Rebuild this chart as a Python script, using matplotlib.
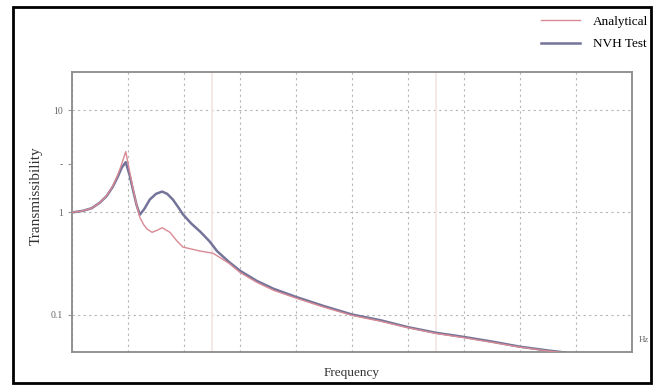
import matplotlib.pyplot as plt
from matplotlib.patches import Rectangle

plt.rcParams['font.family'] = ['Liberation Serif', 'DejaVu Serif']

# frequency (axis has 10 equal divisions, no numeric labels)
freq_test = [0, 2, 3.5, 5.0, 6.2, 7.3, 8.2, 8.9, 9.6, 10.3, 10.9, 11.5, 12.1, 12.9,
             13.9, 15.0, 16.1, 17.0, 18.0, 19.0, 19.8, 21.3, 22.9, 24.6, 25.9,
             28, 30, 33, 36, 40, 45, 50, 55, 60, 65, 70, 75, 80, 85, 88]
nvh_test = [1.0, 1.04, 1.1, 1.25, 1.45, 1.79, 2.25, 2.75, 3.1, 2.3, 1.65, 1.2, 0.95, 1.08,
            1.34, 1.52, 1.6, 1.52, 1.34, 1.12, 0.96, 0.78, 0.65, 0.52, 0.42,
            0.33, 0.27, 0.215, 0.18, 0.15, 0.122, 0.101, 0.089, 0.076, 0.067, 0.061,
            0.055, 0.049, 0.045, 0.043]

freq_ana = [0, 2, 3.5, 5.0, 6.2, 7.3, 8.2, 8.9, 9.6, 10.3, 10.9, 11.5, 12.1, 12.8,
            13.4, 14.3, 15.2, 16.1, 17.5, 18.7, 19.8, 21.3, 22.9, 25.2,
            28, 30, 33, 36, 40, 45, 50, 55, 60, 65, 70, 75, 80, 85, 88]
analytical = [1.0, 1.04, 1.1, 1.25, 1.46, 1.82, 2.35, 3.0, 3.93, 2.5, 1.7, 1.2, 0.9, 0.76,
              0.69, 0.64, 0.67, 0.71, 0.64, 0.53, 0.46, 0.44, 0.42, 0.40,
              0.32, 0.26, 0.208, 0.174, 0.146, 0.119, 0.099, 0.087, 0.075, 0.066, 0.060,
              0.054, 0.0485, 0.0445, 0.0425]

ytick_vals = [0.1, 1, 3, 10]
ytick_labels = ['0.1', '1', '-', '10']
ygrid_vals = [0.1, 1, 10]

fig = plt.figure(figsize=(6.62, 3.85), dpi=100)
ax = fig.add_axes([72/662, 33/385, 560/662, 280/385])

ax.plot(freq_ana, analytical, color='#d98a94', lw=1.0, label='Analytical', zorder=3)
ax.plot(freq_test, nvh_test, color='#74749a', lw=1.8, label='NVH Test', zorder=2)

ax.set_yscale('log')
ax.set_xlim(0, 100)
ax.set_ylim(0.0435, 23.5)
ax.set_xticks(range(0, 101, 10))
ax.set_xticklabels([])
ax.set_yticks(ytick_vals)
ax.set_yticklabels(ytick_labels)
ax.minorticks_off()
ax.tick_params(axis='y', labelsize=7, colors='#999999', labelcolor='#666666', length=3)
ax.tick_params(axis='x', length=0)

ax.grid(True, axis='x', color='#b5b5b5', ls=(0, (2, 3)), lw=0.8)
for yv in ygrid_vals:
    ax.axhline(yv, color='#b5b5b5', ls=(0, (2, 3)), lw=0.8, zorder=0)
for xv in [25, 65]:
    ax.axvline(xv, color='#f3e6e6', lw=1.3, zorder=0)

for s in ax.spines.values():
    s.set_color('#8a8a8a')
    s.set_linewidth(1.3)

ax.set_xlabel('Frequency', fontsize=9.5, color='#333333', labelpad=7)
ax.set_ylabel('Transmissibility', fontsize=11, color='#333333')
ax.yaxis.set_label_coords(-0.052, 0.56)
ax.text(1.012, 0.035, 'Hz', transform=ax.transAxes, fontsize=6.5, color='#666666')

fig.legend(loc='upper right', bbox_to_anchor=(660/662, 1 - 4/385), frameon=False,
           fontsize=9.5, handlelength=2.9, labelspacing=0.75, handletextpad=1.0)

fig.patches.append(Rectangle((13/662, 2/385), 638/662, 376/385, transform=fig.transFigure,
                             fill=False, edgecolor='black', lw=2))

fig.savefig('out.png', dpi=100)
